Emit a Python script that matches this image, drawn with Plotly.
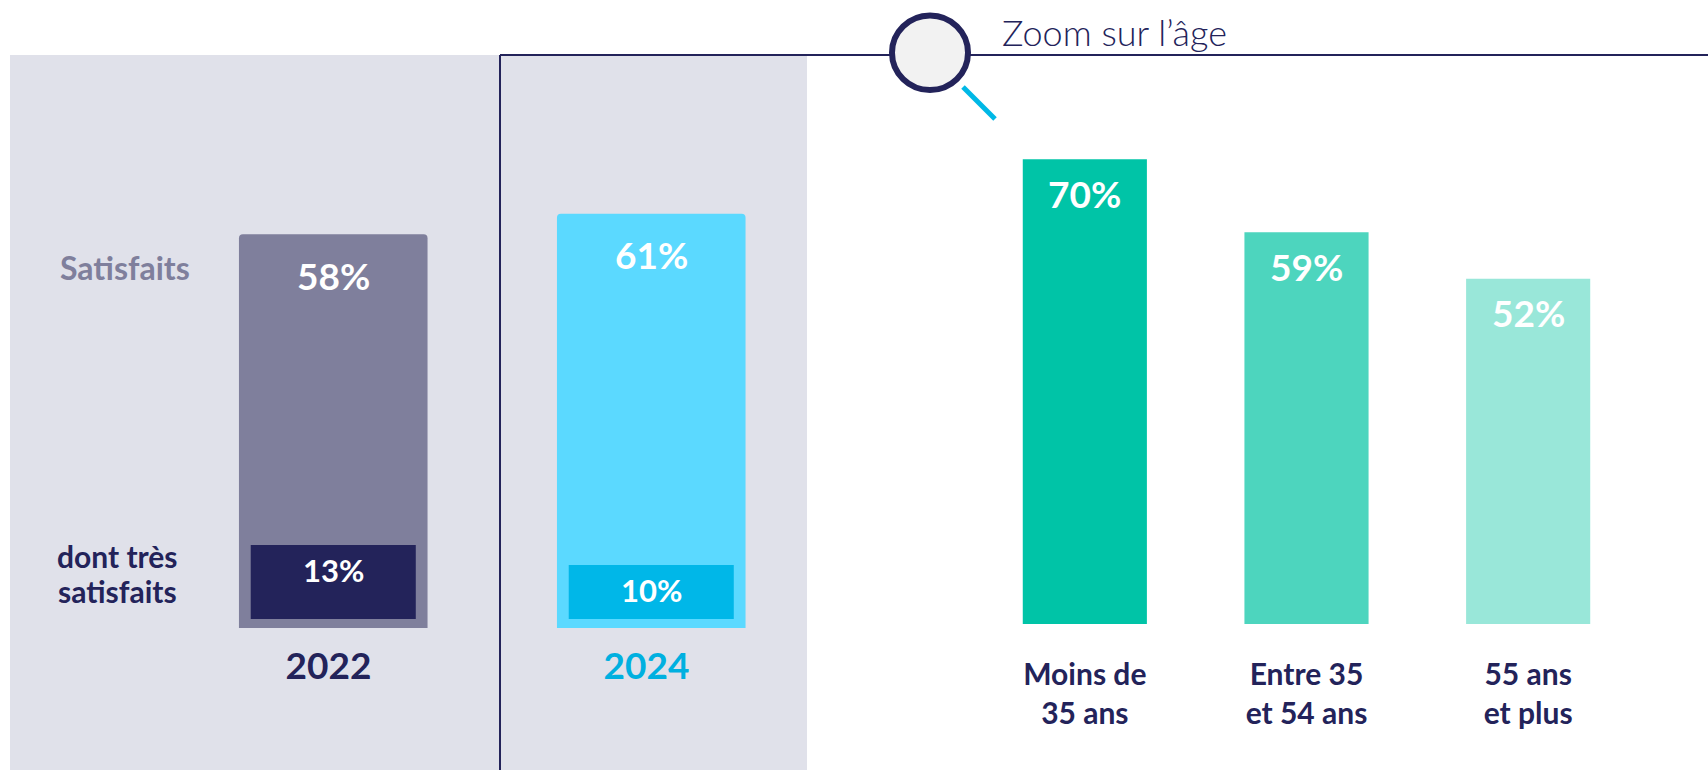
import plotly.graph_objects as go

W, H = 1708, 770
NAVY = "#23235A"
FONT = "Lato"

years = ["2022", "2024"]
satisfied = [58, 61]
very_satisfied = [13, 10]
satisfied_colors = ["#7F7F9C", "#5BD9FF"]
very_satisfied_colors = [NAVY, "#00B7E8"]
year_colors = [NAVY, "#00B0E0"]

ages = ["Moins de<br>35 ans", "Entre 35<br>et 54 ans", "55 ans<br>et plus"]
age_values = [70, 59, 52]
age_colors = ["#00C4A7", "#4DD5BE", "#99E7D9"]


def fx(px):
    return px / W


def fy(px):
    return 1 - px / H


fig = go.Figure()
fig.add_bar(x=years, y=satisfied, xaxis="x", yaxis="y", width=0.593,
            marker=dict(color=satisfied_colors, cornerradius=4, line_width=0),
            hoverinfo="x+y")
# The two "dont très satisfaits" bars sit on their own scales, as in the source slide
fig.add_bar(x=years[:1], y=very_satisfied[:1], xaxis="x", yaxis="y2", width=0.519,
            marker=dict(color=very_satisfied_colors[0], line_width=0),
            hoverinfo="x+y")
fig.add_bar(x=years[1:], y=very_satisfied[1:], xaxis="x", yaxis="y4", width=0.519,
            marker=dict(color=very_satisfied_colors[1], line_width=0),
            hoverinfo="x+y")
fig.add_bar(x=ages, y=age_values, xaxis="x3", yaxis="y3", width=0.56,
            marker=dict(color=age_colors, line_width=0),
            hoverinfo="x+y")

annotations = []
for i, v in enumerate(satisfied):
    annotations.append(dict(x=i, y=v, xref="x", yref="y", text=f"<b>{v}%</b>", yshift=-41,
                            showarrow=False, yanchor="middle",
                            font=dict(family=FONT, size=37, color="white")))
for i, (v, yref) in enumerate(zip(very_satisfied, ["y2", "y4"])):
    annotations.append(dict(x=i, y=v, xref="x", yref=yref, text=f"<b>{v}%</b>", yshift=-25,
                            showarrow=False, yanchor="middle",
                            font=dict(family=FONT, size=31, color="white")))
for i, v in enumerate(age_values):
    annotations.append(dict(x=i, y=v, xref="x3", yref="y3", text=f"<b>{v}%</b>", yshift=-34,
                            showarrow=False, yanchor="middle",
                            font=dict(family=FONT, size=37, color="white")))


def paper_text(px, py, text, size, color, xanchor="center", weight="normal"):
    annotations.append(dict(x=fx(px), y=fy(py), xref="paper", yref="paper", text=text,
                            showarrow=False, xanchor=xanchor, yanchor="middle", align="center",
                            font=dict(family=FONT, size=size, color=color, weight=weight)))


paper_text(125, 267, "<b>Satisfaits</b>", 32, "#7F7F9C")
paper_text(118, 556, "<b>dont très</b>", 30, NAVY)
paper_text(118, 591, "<b>satisfaits</b>", 30, NAVY)
paper_text(1000, 32, "Zoom sur l’âge", 36, NAVY, xanchor="left", weight=300)


def line(x0, y0, x1, y1, color, width):
    return dict(type="line", xref="paper", yref="paper", x0=fx(x0), y0=fy(y0), x1=fx(x1), y1=fy(y1),
                line=dict(color=color, width=width), layer="below")


shapes = [
    dict(type="rect", xref="paper", yref="paper", x0=fx(10), y0=fy(55), x1=fx(807), y1=0,
         fillcolor="#E0E1EA", line_width=0, layer="below"),
    line(500, 55, W, 55, NAVY, 2),
    line(500, 55, 500, H, NAVY, 2),
    line(963, 87, 995, 119, "#00B8E6", 5),
    dict(type="circle", xref="paper", yref="paper", x0=fx(892), y0=fy(15.5), x1=fx(968), y1=fy(90),
         fillcolor="#F2F2F2", line=dict(color=NAVY, width=6), layer="below"),
]

hidden_y = dict(visible=False, showgrid=False, zeroline=False, fixedrange=True)
year_pad = "\u00a0"

fig.update_layout(
    width=W, height=H, autosize=False,
    margin=dict(l=0, r=0, t=0, b=0),
    paper_bgcolor="white", plot_bgcolor="rgba(0,0,0,0)",
    showlegend=False,
    barmode="overlay",
    annotations=annotations, shapes=shapes,
    xaxis=dict(domain=[fx(174.25), fx(810.25)], range=[-0.5, 1.5], type="category",
               categoryorder="array", categoryarray=years,
               tickmode="array", tickvals=years,
               ticktext=[f'<span style="color:{c}"><b>{y}</b></span>{year_pad}'
                         for y, c in zip(years, year_colors)],
               tickfont=dict(family=FONT, size=37), ticks="", showline=False, showgrid=False,
               zeroline=False, ticklabelstandoff=13, anchor="y"),
    yaxis=dict(domain=[fy(628), fy(55)], range=[0, 573 / 6.79], anchor="x", **hidden_y),
    yaxis2=dict(domain=[fy(619), fy(55)], range=[0, 564 / 5.69], anchor="x", **hidden_y),
    yaxis4=dict(domain=[fy(619), fy(55)], range=[0, 564 / 5.4], anchor="x", **hidden_y),
    xaxis3=dict(domain=[fx(974), fx(1639)], range=[-0.5, 2.5], type="category",
                categoryorder="array", categoryarray=ages,
                tickmode="array", tickvals=ages,
                ticktext=[f"<b>{a.replace('<br>', '</b><br><b>')}</b>" for a in ages],
                tickfont=dict(family=FONT, size=30, color=NAVY), ticks="", showline=False,
                showgrid=False, zeroline=False, ticklabelstandoff=30, anchor="y3"),
    yaxis3=dict(domain=[fy(624), fy(55)], range=[0, 569 / 6.64], anchor="x3", **hidden_y),
)

fig.write_html("out.html", config=dict(displayModeBar=False),
               post_script="document.body.style.margin='0';document.body.style.overflow='hidden';")
